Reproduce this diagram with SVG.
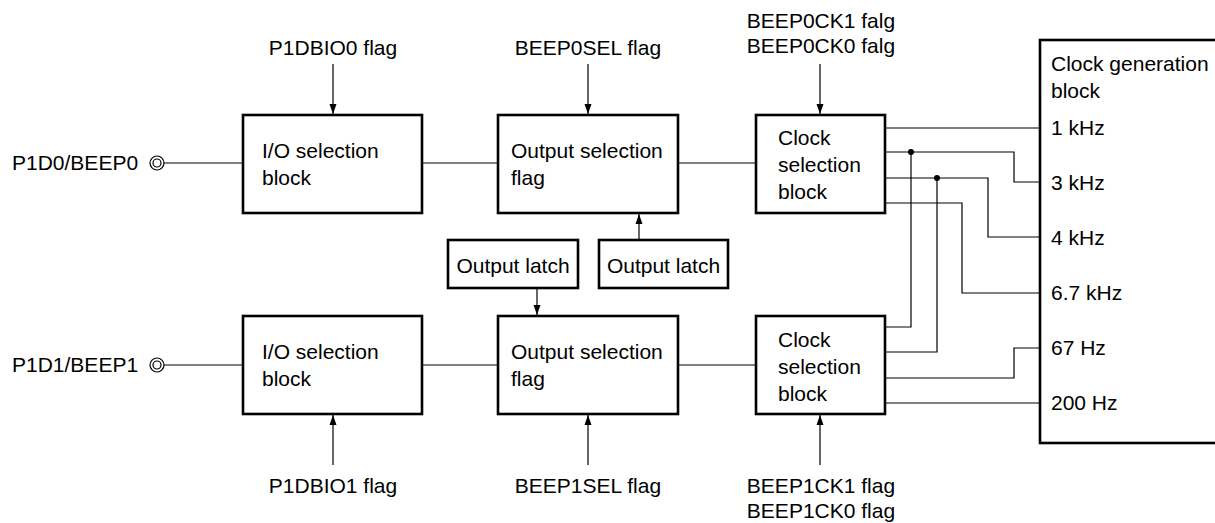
<svg xmlns="http://www.w3.org/2000/svg" width="1215" height="523" viewBox="0 0 1215 523">
<defs>
<marker id="arr" markerUnits="userSpaceOnUse" markerWidth="10" markerHeight="8" refX="10" refY="4" orient="auto">
<path d="M0,0.5 L10,4 L0,7.5 z" fill="#000"/>
</marker>
<style>
text{font-family:"Liberation Sans",Arial,sans-serif;font-size:21px;fill:#000}
.box{fill:#fff;stroke:#000;stroke-width:2.6}
.ln{fill:none;stroke:#000;stroke-width:1.2}
.ar{fill:none;stroke:#000;stroke-width:1.2;marker-end:url(#arr)}
.mid{text-anchor:middle}
</style>
</defs>
<rect width="1215" height="523" fill="#fff"/>

<g id="connectors">
<path class="ln" d="M164,163 H243"/>
<path class="ln" d="M164,365 H243"/>
<path class="ln" d="M422,163 H498"/>
<path class="ln" d="M422,365 H498"/>
<path class="ln" d="M678,163 H756"/>
<path class="ln" d="M678,365 H756"/>
<path class="ar" d="M333,64 V114"/>
<path class="ar" d="M588,64 V114"/>
<path class="ar" d="M820,64 V114"/>
<path class="ar" d="M333,465 V415"/>
<path class="ar" d="M588,465 V415"/>
<path class="ar" d="M820,465 V415"/>
<path class="ar" d="M639,240 V214"/>
<path class="ar" d="M537,288 V315"/>
<path class="ln" d="M885,128 H1040"/>
<path class="ln" d="M885,152 H1014 V182 H1040"/>
<path class="ln" d="M885,178 H988 V237 H1040"/>
<path class="ln" d="M885,203 H962 V293 H1040"/>
<path class="ln" d="M885,327 H911 V152"/>
<path class="ln" d="M885,352 H937 V178"/>
<path class="ln" d="M885,378 H1014 V348 H1040"/>
<path class="ln" d="M885,403 H1040"/>
<circle cx="911" cy="152" r="3" fill="#000"/>
<circle cx="937" cy="178" r="3" fill="#000"/>
</g>

<g id="term0">
<text x="12" y="170">P1D0/BEEP0</text>
<circle cx="157" cy="163" r="7" fill="none" stroke="#000" stroke-width="1.2"/>
<circle cx="157" cy="163" r="4" fill="none" stroke="#000" stroke-width="1.2"/>
</g>
<g id="term1">
<text x="12" y="372">P1D1/BEEP1</text>
<circle cx="157" cy="365" r="7" fill="none" stroke="#000" stroke-width="1.2"/>
<circle cx="157" cy="365" r="4" fill="none" stroke="#000" stroke-width="1.2"/>
</g>

<g id="io0">
<rect class="box" x="243" y="115" width="179" height="98"/>
<text x="262" y="158">I/O selection</text>
<text x="262" y="185">block</text>
</g>
<g id="io1">
<rect class="box" x="243" y="316" width="179" height="98"/>
<text x="262" y="359">I/O selection</text>
<text x="262" y="386">block</text>
</g>
<g id="os0">
<rect class="box" x="498" y="115" width="180" height="98"/>
<text x="511" y="158">Output selection</text>
<text x="511" y="185">flag</text>
</g>
<g id="os1">
<rect class="box" x="498" y="316" width="180" height="98"/>
<text x="511" y="359">Output selection</text>
<text x="511" y="386">flag</text>
</g>
<g id="latch0">
<rect class="box" x="448" y="240" width="130" height="48"/>
<text class="mid" x="513" y="273">Output latch</text>
</g>
<g id="latch1">
<rect class="box" x="599" y="240" width="129" height="48"/>
<text class="mid" x="663.5" y="273">Output latch</text>
</g>
<g id="cs0">
<rect class="box" x="756" y="115" width="129" height="98"/>
<text x="778" y="145">Clock</text>
<text x="778" y="172">selection</text>
<text x="778" y="199">block</text>
</g>
<g id="cs1">
<rect class="box" x="756" y="316" width="129" height="98"/>
<text x="778" y="347">Clock</text>
<text x="778" y="374">selection</text>
<text x="778" y="401">block</text>
</g>
<g id="clkgen">
<rect class="box" x="1040" y="40" width="200" height="403"/>
<text x="1051" y="71">Clock generation</text>
<text x="1051" y="98">block</text>
<text x="1051" y="135">1 kHz</text>
<text x="1051" y="190">3 kHz</text>
<text x="1051" y="245">4 kHz</text>
<text x="1051" y="300">6.7 kHz</text>
<text x="1051" y="355">67 Hz</text>
<text x="1051" y="410">200 Hz</text>
</g>

<g id="labels">
<text class="mid" x="333" y="55">P1DBIO0 flag</text>
<text class="mid" x="588" y="55">BEEP0SEL flag</text>
<text class="mid" x="821" y="28">BEEP0CK1 falg</text>
<text class="mid" x="821" y="53">BEEP0CK0 falg</text>
<text class="mid" x="333" y="493">P1DBIO1 flag</text>
<text class="mid" x="588" y="493">BEEP1SEL flag</text>
<text class="mid" x="821" y="493">BEEP1CK1 flag</text>
<text class="mid" x="821" y="518">BEEP1CK0 flag</text>
</g>
</svg>
